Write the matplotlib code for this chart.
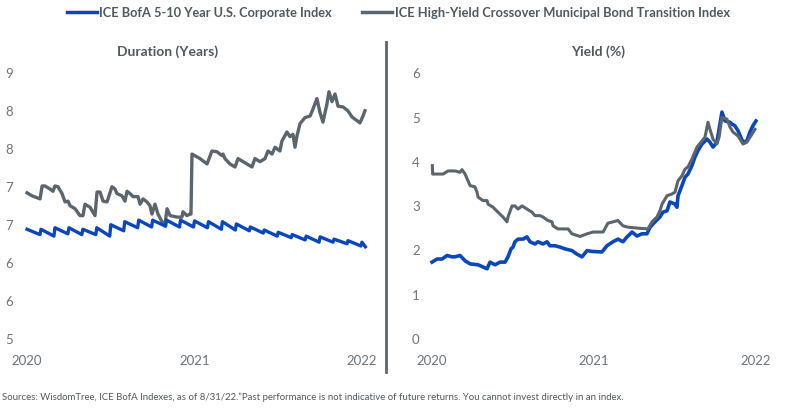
import matplotlib
matplotlib.use("Agg")
import matplotlib.pyplot as plt
from matplotlib.lines import Line2D

plt.rcParams['font.family'] = ['Lato', 'DejaVu Sans']

BLUE = "#0a47bd"
GRAY = "#5b656d"
TXT = "#4f5961"
TICK = "#6d757b"

# Duration panel, corporate index: monthly sawtooth (top at month start, bottom at month end)
corp_dur_top = [6.93, 6.93, 6.95, 6.95, 6.93, 6.95, 6.99, 7.03, 7.05, 7.05, 7.05, 7.05, 7.04,
                7.03, 7.03, 7.00, 6.96, 6.92, 6.89, 6.86, 6.84, 6.83, 6.80, 6.78, 6.76]
corp_dur_bot = [6.86, 6.84, 6.87, 6.86, 6.86, 6.84, 6.91, 6.95, 6.96, 6.97, 6.96, 6.96, 6.95,
                6.93, 6.92, 6.91, 6.88, 6.84, 6.82, 6.79, 6.76, 6.76, 6.74, 6.71, 6.70]

# Duration panel, HY crossover muni index (t = years after 2020)
muni_dur_t = [0.000, 0.030, 0.078, 0.090, 0.107, 0.137, 0.155, 0.167, 0.185, 0.209, 0.227, 0.245,
              0.257, 0.287, 0.316, 0.334, 0.346, 0.376, 0.406, 0.418, 0.436, 0.454, 0.478, 0.507,
              0.525, 0.537, 0.567, 0.585, 0.597, 0.615, 0.633, 0.663, 0.675, 0.693, 0.716, 0.734,
              0.746, 0.764, 0.782, 0.806, 0.824, 0.836, 0.854, 0.896, 0.925, 0.931, 0.955, 0.973,
              0.979, 0.985, 1.033, 1.075, 1.104, 1.134, 1.164, 1.170, 1.182, 1.212, 1.242, 1.260,
              1.290, 1.343, 1.361, 1.391, 1.421, 1.439, 1.463, 1.481, 1.510, 1.522, 1.552, 1.570,
              1.588, 1.600, 1.612, 1.630, 1.660, 1.690, 1.707, 1.731, 1.749, 1.767, 1.791, 1.803,
              1.821, 1.839, 1.857, 1.887, 1.916, 1.940, 1.970, 1.988, 2.006, 2.018]
muni_dur_v = [7.41, 7.37, 7.33, 7.50, 7.50, 7.46, 7.43, 7.50, 7.49, 7.40, 7.29, 7.30,
              7.24, 7.20, 7.11, 7.11, 7.26, 7.22, 7.11, 7.42, 7.42, 7.30, 7.29, 7.49,
              7.46, 7.40, 7.37, 7.30, 7.43, 7.40, 7.36, 7.36, 7.26, 7.33, 7.29, 7.24,
              7.13, 7.26, 7.13, 7.03, 7.00, 7.20, 7.11, 7.09, 7.09, 7.16, 7.11, 7.13,
              7.13, 7.92, 7.86, 7.79, 7.96, 7.95, 7.90, 7.92, 7.86, 7.79, 7.75, 7.86,
              7.82, 7.75, 7.86, 7.82, 7.86, 7.96, 7.92, 8.01, 7.96, 8.09, 8.21, 8.15,
              8.18, 8.01, 8.16, 8.32, 8.40, 8.42, 8.51, 8.65, 8.47, 8.34, 8.58, 8.74,
              8.61, 8.71, 8.55, 8.54, 8.49, 8.41, 8.36, 8.33, 8.42, 8.49]

# Yield panel, corporate index
corp_yld_t = [0.000, 0.031, 0.062, 0.093, 0.123, 0.142, 0.173, 0.204, 0.235, 0.284,
              0.315, 0.340, 0.358, 0.389, 0.420, 0.451, 0.469, 0.488, 0.500, 0.512,
              0.531, 0.562, 0.586, 0.605, 0.636, 0.654, 0.685, 0.710, 0.728, 0.759,
              0.790, 0.821, 0.864, 0.895, 0.926, 0.957, 0.994, 1.049, 1.080, 1.117,
              1.148, 1.179, 1.204, 1.235, 1.265, 1.296, 1.327, 1.346, 1.377, 1.407,
              1.426, 1.451, 1.469, 1.500, 1.512, 1.519, 1.543, 1.562, 1.580, 1.605,
              1.623, 1.642, 1.667, 1.698, 1.716, 1.735, 1.759, 1.772, 1.790, 1.809,
              1.840, 1.852, 1.870, 1.889, 1.920, 1.944, 1.963, 1.981, 2.000]
corp_yld_v = [1.71, 1.78, 1.78, 1.86, 1.83, 1.83, 1.86, 1.74, 1.67, 1.65,
              1.60, 1.56, 1.71, 1.65, 1.71, 1.71, 1.83, 2.01, 2.05, 2.17,
              2.23, 2.23, 2.28, 2.17, 2.12, 2.17, 2.12, 2.17, 2.08, 2.08,
              2.05, 2.01, 1.97, 1.89, 1.83, 1.97, 1.95, 1.94, 2.08, 2.17,
              2.23, 2.17, 2.28, 2.39, 2.30, 2.35, 2.35, 2.50, 2.62, 2.73,
              2.84, 2.87, 3.07, 3.02, 2.95, 3.21, 3.44, 3.63, 3.70, 3.89,
              4.08, 4.23, 4.38, 4.49, 4.42, 4.31, 4.42, 4.71, 5.10, 4.90,
              4.87, 4.83, 4.79, 4.68, 4.42, 4.45, 4.65, 4.79, 4.90]

# Yield panel, HY crossover muni index
muni_yld_t = [0.002, 0.004, 0.037, 0.068, 0.099, 0.142, 0.173, 0.185, 0.204, 0.222,
              0.235, 0.265, 0.278, 0.284, 0.315, 0.340, 0.346, 0.377, 0.407, 0.438,
              0.463, 0.469, 0.494, 0.512, 0.531, 0.556, 0.586, 0.617, 0.636, 0.667,
              0.685, 0.716, 0.741, 0.747, 0.778, 0.802, 0.840, 0.864, 0.914, 0.957,
              0.994, 1.056, 1.086, 1.117, 1.148, 1.179, 1.210, 1.265, 1.333, 1.358,
              1.389, 1.407, 1.420, 1.451, 1.481, 1.500, 1.519, 1.543, 1.562, 1.580,
              1.605, 1.636, 1.667, 1.685, 1.704, 1.716, 1.735, 1.759, 1.772, 1.790,
              1.821, 1.840, 1.858, 1.889, 1.920, 1.944, 1.963, 1.994]
muni_yld_v = [3.89, 3.70, 3.70, 3.70, 3.77, 3.77, 3.74, 3.80, 3.70, 3.55,
              3.44, 3.41, 3.29, 3.18, 3.10, 3.10, 3.02, 2.95, 2.84, 2.73,
              2.62, 2.73, 2.98, 2.98, 2.91, 2.98, 2.91, 2.84, 2.76, 2.76,
              2.73, 2.65, 2.62, 2.53, 2.46, 2.46, 2.46, 2.35, 2.29, 2.35,
              2.39, 2.39, 2.59, 2.62, 2.65, 2.53, 2.50, 2.48, 2.46, 2.62,
              2.73, 2.87, 3.02, 3.21, 3.25, 3.29, 3.55, 3.66, 3.81, 3.86,
              4.04, 4.31, 4.45, 4.53, 4.87, 4.71, 4.49, 4.38, 4.53, 4.98,
              4.94, 4.76, 4.65, 4.56, 4.38, 4.42, 4.53, 4.71]

dur_ticks = [5.5, 6.0, 6.5, 7.0, 7.5, 8.0, 8.5, 9.0]
dur_ticklabels = ["5", "6", "6", "7", "7", "8", "8", "9"]
yld_ticks = [0, 1, 2, 3, 4, 5, 6]
year_ticks = [2020, 2021, 2022]

legend_labels = ["ICE BofA 5-10 Year U.S. Corporate Index",
                 "ICE High-Yield Crossover Municipal Bond Transition Index"]

# build sawtooth x/y for corp duration
cd_x, cd_y = [], []
for k in range(len(corp_dur_top)):
    cd_x.append(2020 + k / 12)
    cd_y.append(corp_dur_top[k])
    end = 2020 + (k + 1) / 12 - 0.006 if k < len(corp_dur_top) - 1 else 2020 + k / 12 + 0.02
    cd_x.append(end)
    cd_y.append(corp_dur_bot[k])

fig = plt.figure(figsize=(7.97, 4.10), dpi=100)
W, H = 797, 410


def px_axes(x0, x1, y0, y1):
    return fig.add_axes([x0 / W, 1 - y1 / H, (x1 - x0) / W, (y1 - y0) / H])


ax1 = px_axes(22, 370, 57.8, 345)
ax2 = px_axes(427, 760, 60, 345)

ax1.plot([2020 + t for t in muni_dur_t], muni_dur_v, color=GRAY, lw=2.4, solid_joinstyle="round")
ax1.plot(cd_x, cd_y, color=BLUE, lw=2.4, solid_joinstyle="round")
ax1.set_xlim(2019.97, 2022.048)
ax1.set_ylim(5.42, 9.2)
ax1.set_yticks(dur_ticks)
ax1.set_yticklabels(dur_ticklabels)

ax2.plot([2020 + t for t in corp_yld_t], corp_yld_v, color=BLUE, lw=2.6, solid_joinstyle="round")
ax2.plot([2020 + t for t in muni_yld_t], muni_yld_v, color=GRAY, lw=2.2, solid_joinstyle="round")
ax2.set_xlim(2019.969, 2022.025)
ax2.set_ylim(-0.14, 6.3)
ax2.set_yticks(yld_ticks)

for ax in (ax1, ax2):
    for s in ax.spines.values():
        s.set_visible(False)
    ax.set_xticks(year_ticks)
    ax.set_xticklabels([str(y) for y in year_ticks])
    ax.tick_params(length=0, labelsize=9.5, colors=TICK)
    ax.tick_params(axis="x", pad=7)
    for lab in ax.get_yticklabels():
        lab.set_horizontalalignment("left")
ax1.tick_params(axis="y", pad=12)
ax2.tick_params(axis="y", pad=10.8)

fig.text(168 / W, 1 - 52 / H, "Duration (Years)", ha="center", va="center",
         fontsize=10, fontweight="bold", color=TXT)
fig.text(598 / W, 1 - 52 / H, "Yield (%)", ha="center", va="center",
         fontsize=10, fontweight="bold", color=TXT)

# divider
fig.add_artist(Line2D([386 / W, 386 / W], [1 - 43 / H, 1 - 373 / H], color=GRAY, lw=2))

# legend
fig.add_artist(Line2D([67 / W, 97 / W], [1 - 13 / H, 1 - 13 / H], color=BLUE, lw=2.5))
fig.text(99 / W, 1 - 13 / H, legend_labels[0], ha="left", va="center",
         fontsize=9.2, fontweight="bold", color=TXT)
fig.add_artist(Line2D([362 / W, 392 / W], [1 - 13 / H, 1 - 13 / H], color=GRAY, lw=2.5))
fig.text(395 / W, 1 - 13 / H, legend_labels[1], ha="left", va="center",
         fontsize=9.3, fontweight="bold", color=TXT)

fig.text(2 / W, 1 - 397 / H,
         "Sources: WisdomTree, ICE BofA Indexes, as of 8/31/22.\u201dPast performance is not indicative "
         "of future returns. You cannot invest directly in an index.",
         ha="left", va="center", fontsize=6.9, color=TXT)

fig.savefig("out.png", dpi=100)
